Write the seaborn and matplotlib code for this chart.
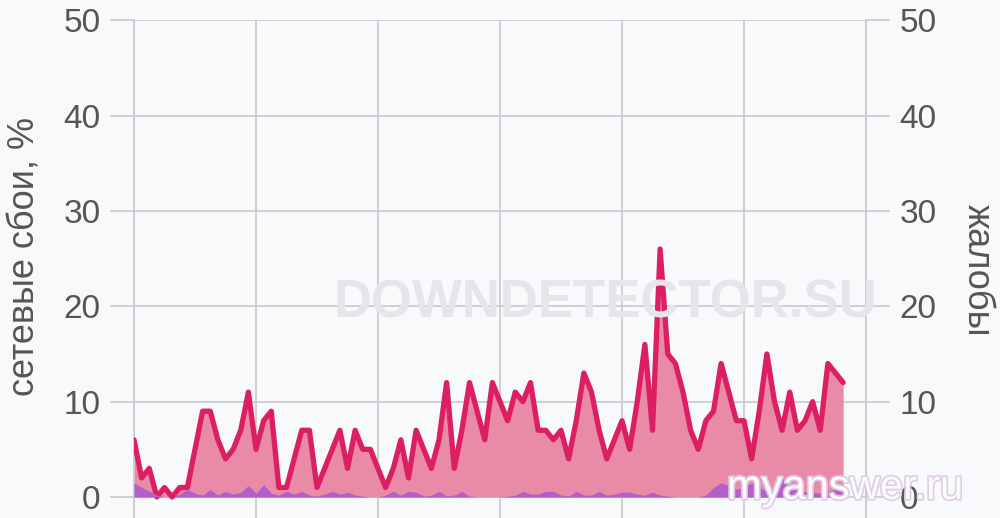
import numpy as np
import pandas as pd
import matplotlib
matplotlib.use("Agg")
import matplotlib.pyplot as plt
import matplotlib.patheffects as pe
import seaborn as sns

# network outages, % (crimson line, left axis) - one value per 15 min slot
outages = [6, 2, 3, 0, 1, 0, 1, 1, 5, 9, 9, 6, 4, 5, 7, 11, 5, 8, 9, 1,
           1, 4, 7, 7, 1, 3, 5, 7, 3, 7, 5, 5, 3, 1, 3, 6, 2, 7, 5, 3,
           6, 12, 3, 7, 12, 9, 6, 12, 10, 8, 11, 10, 12, 7, 7, 6, 7, 4, 8, 13,
           11, 7, 4, 6, 8, 5, 10, 16, 7, 26, 15, 14, 11, 7, 5, 8, 9, 14, 11, 8,
           8, 4, 9, 15, 10, 7, 11, 7, 8, 10, 7, 14, 13, 12]

# complaints (purple area, right axis)
reports = [1.5, 1.0, 0.6, 0.2, 0, 0, 0.3, 0.8, 0.4, 0.2, 0.8, 0.2, 0.6, 0.3, 0.5, 1.2, 0.4, 1.3, 0.4, 0.2,
           0.6, 0.3, 0.6, 0.2, 0.1, 0.3, 0.6, 0.3, 0.5, 0.2, 0.1, 0, 0, 0.2, 0.6, 0.2, 0.6, 0.5, 0.1, 0.2,
           0.6, 0.1, 0.2, 0.6, 0.1, 0, 0, 0, 0, 0.1, 0.2, 0.6, 0.3, 0.3, 0.6, 0.6, 0.2, 0.1, 0.6, 0.2,
           0.2, 0.6, 0.2, 0.3, 0.5, 0.5, 0.3, 0.2, 0.5, 0.2, 0.1, 0, 0, 0, 0, 0.2, 1.0, 1.5, 1.2, 0.8,
           1.0, 1.5, 1.0, 0.6, 1.0, 2.0, 1.5, 0.8, 0.6, 0.5, 0.4, 0.6, 0.8, 0.5]

y_ticks = [0, 10, 20, 30, 40, 50]
x_grid = [0, 16, 32, 48, 64, 80, 96]

df = pd.DataFrame({"slot": np.arange(len(outages)),
                   "outages": outages,
                   "reports": reports})

sns.set_theme(style="whitegrid")
plt.rcParams['font.family'] = ['Liberation Sans', 'DejaVu Sans']

bg = "#f8f9fb"
grid_c = "#c9cacd"
text_c = "#555555"

fig = plt.figure(figsize=(10, 5.18), dpi=100, facecolor=bg)
ax = fig.add_axes([0.134, 0.0, 0.732, 0.961])
ax.set_facecolor(bg)

# watermark behind the data
fig.text(0.605, 1 - 304 / 518, "DOWNDETECTOR.SU", ha="center", va="center",
         fontsize=38, fontweight="bold", color="#e4e6ec", zorder=0)

ax.fill_between(df["slot"], 0, df["outages"], color="#e98aa7", lw=0, zorder=2)
sns.lineplot(data=df, x="slot", y="outages", ax=ax, color="#dc1f63", lw=3.8,
             zorder=3, solid_joinstyle="round", solid_capstyle="round")
ax.fill_between(df["slot"], 0, df["reports"], color="#b25fca", lw=0, zorder=4)

ax.set_xlim(0, 96)
ax.set_ylim(-2.2, 50)
ax.set_xticks(x_grid)
ax.set_xticklabels([])
ax.set_yticks(y_ticks)
ax.grid(True, color=grid_c, lw=1.2)
ax.tick_params(axis="x", length=0)
ax.tick_params(axis="y", length=17, width=1.2, color=grid_c, labelsize=24,
               labelcolor=text_c, pad=7)
for side in ["top", "bottom"]:
    ax.spines[side].set_visible(False)
for side in ["left", "right"]:
    ax.spines[side].set_color(grid_c)
    ax.spines[side].set_linewidth(1.2)
ax.set_xlabel("")
ax.set_ylabel("сетевые сбои, %", fontsize=26, color=text_c)
ax.yaxis.set_label_coords(-0.125, 0.526)

ax2 = ax.twinx()
ax2.set_ylim(-2.2, 50)
ax2.set_yticks(y_ticks)
ax2.grid(False)
ax2.tick_params(axis="y", length=17, width=1.2, color=grid_c, labelsize=24,
                labelcolor=text_c, pad=7)
for s in ax2.spines.values():
    s.set_visible(False)
ax2.set_ylabel("жалобы", fontsize=26, color=text_c, rotation=270)
ax2.yaxis.set_label_coords(1.176, 0.498)

fig.text(0.845, 1 - 488 / 518, "myanswer.ru", ha="center", va="center",
         fontsize=30, color="white", alpha=0.9, zorder=10,
         path_effects=[pe.withStroke(linewidth=2.5, foreground="#dccbe3")])

fig.savefig("out.png", dpi=100, facecolor=bg)
